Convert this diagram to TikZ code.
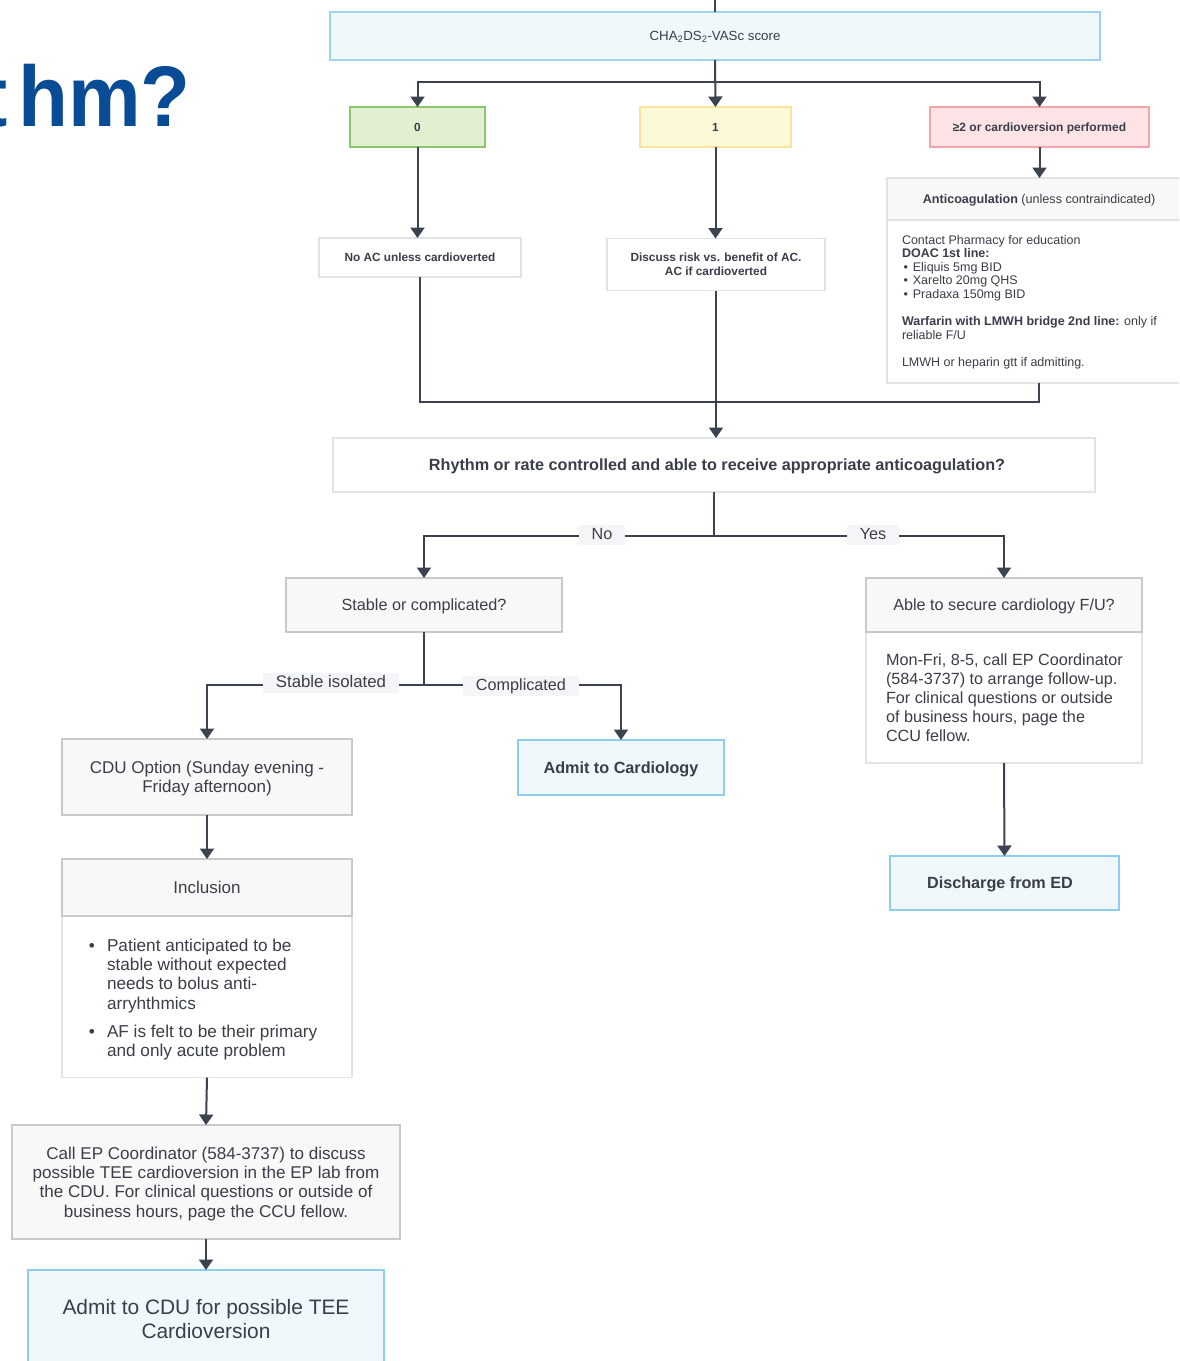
\documentclass[tikz,border=0pt]{standalone}
\usepackage{fontspec}
\setmainfont{Liberation Sans}
\usetikzlibrary{arrows.meta}
\definecolor{txt}{RGB}{58,62,72}
\definecolor{linec}{RGB}{60,66,80}
\definecolor{grayfill}{RGB}{248,248,248}
\definecolor{grayborder}{RGB}{200,201,204}
\definecolor{whiteborder}{RGB}{224,227,231}
\definecolor{bluefill}{RGB}{241,248,252}
\definecolor{blueborder}{RGB}{141,205,239}
\definecolor{chafill}{RGB}{240,248,251}
\definecolor{chaborder}{RGB}{155,211,240}
\definecolor{greenfill}{RGB}{226,239,208}
\definecolor{greenborder}{RGB}{139,198,107}
\definecolor{yellowfill}{RGB}{251,249,216}
\definecolor{yellowborder}{RGB}{247,229,154}
\definecolor{pinkfill}{RGB}{253,227,230}
\definecolor{pinkborder}{RGB}{245,164,169}
\definecolor{labbg}{RGB}{244,245,247}
\definecolor{titleblue}{RGB}{8,76,150}
\newcommand\fsz[2]{\fontsize{#1}{#2}\selectfont}
\begin{document}
\begin{tikzpicture}[x=1pt,y=-1pt,
  basebox/.style={inner sep=0pt, outer sep=0pt, text=txt, align=center, text depth=0pt},
  graybox/.style={basebox, draw=grayborder, fill=grayfill, line width=1.2pt},
  whitebox/.style={basebox, draw=whiteborder, fill=white, line width=1.2pt},
  bluebox/.style={basebox, draw=blueborder, fill=bluefill, line width=1.4pt},
  colbox/.style={basebox, line width=1.3pt},
  conn/.style={draw=linec, line width=2pt},
  arr/.style={conn, -{Triangle[width=14pt,length=10.5pt]}},
  lab/.style={fill=labbg, text=txt, inner xsep=12.5pt, inner ysep=2pt, text height=12pt, text depth=4pt, font=\fsz{16.2}{19}},
  bodytext/.style={anchor=north west, inner sep=0pt, outer sep=0pt, align=left, text=txt}
]
\useasboundingbox (0,0) rectangle (1179,1361);
\clip (0,0) rectangle (1179,1361);

% title fragment
\node[anchor=base east, inner sep=0pt, text=titleblue, font=\fsz{86}{86}\bfseries] (title) at (191,126) {\scalebox{0.95}[1]{t\kern11pt hm?}};

% top row
\coordinate (topin) at (715,0);
\node[colbox, fill=chafill, draw=chaborder, minimum width=770pt, minimum height=48pt, font=\fsz{13.3}{15}] (cha) at (715,36) {CHA\textsubscript{2}DS\textsubscript{2}-VASc score};
\node[colbox, fill=greenfill, draw=greenborder, minimum width=135pt, minimum height=40pt, font=\fsz{11.8}{14}\bfseries] (s0) at (417.5,127) {0};
\node[colbox, fill=yellowfill, draw=yellowborder, minimum width=151pt, minimum height=40pt, font=\fsz{11.8}{14}\bfseries] (s1) at (715.5,127) {1};
\node[colbox, fill=pinkfill, draw=pinkborder, minimum width=219pt, minimum height=40pt, font=\fsz{12}{14}\bfseries] (s2) at (1039.5,127) {≥2 or cardioversion performed};

\node[whitebox, minimum width=202pt, minimum height=39pt, font=\fsz{11.8}{14}\bfseries] (noac) at (420,257.5) {No AC unless cardioverted};
\node[whitebox, minimum width=218pt, minimum height=52pt, font=\fsz{11.85}{14}\bfseries] (disc) at (716,264.5) {Discuss risk vs. benefit of AC.\\AC if cardioverted};

% anticoagulation box
\node[whitebox, minimum width=304pt, minimum height=163pt] (acb) at (1039,301.5) {};
\node[whitebox, fill=grayfill, minimum width=304pt, minimum height=42pt, font=\fsz{12.6}{15}] (ach) at (1039,199) {\textbf{Anticoagulation} (unless contraindicated)};
\node[bodytext, font=\fsz{12.5}{13.65}] (actext) at (902,234.5) {\rule{0pt}{9.5pt}Contact Pharmacy for education\\
\textbf{DOAC 1st line:}\\
\hspace*{1.5pt}\textbullet\hspace{5pt}Eliquis 5mg BID\\
\hspace*{1.5pt}\textbullet\hspace{5pt}Xarelto 20mg QHS\\
\hspace*{1.5pt}\textbullet\hspace{5pt}Pradaxa 150mg BID\\[13.65pt]
\textbf{Warfarin with LMWH bridge 2nd line:} only if\\
reliable F/U\\[13.65pt]
LMWH or heparin gtt if admitting.};

% decision
\node[whitebox, minimum width=762pt, minimum height=54pt, font=\fsz{16.2}{19}\bfseries] (rhy) at (714,465) {\hspace*{6pt}Rhythm or rate controlled and able to receive appropriate anticoagulation?};

\node[graybox, minimum width=276pt, minimum height=54pt, font=\fsz{16.2}{19}] (stab) at (424,605) {Stable or complicated?};

% able box
\node[whitebox, minimum width=276pt, minimum height=131pt] (ableb) at (1004,697.5) {};
\node[graybox, minimum width=276pt, minimum height=54pt, font=\fsz{16.2}{19}] (ableh) at (1004,605) {Able to secure cardiology F/U?};
\node[bodytext, font=\fsz{16.2}{19}] (abletext) at (886,652.5) {\rule{0pt}{12.5pt}Mon-Fri, 8-5, call EP Coordinator\\
(584-3737) to arrange follow-up.\\
For clinical questions or outside\\
of business hours, page the\\
CCU fellow.};

\node[bluebox, minimum width=229pt, minimum height=54pt, font=\fsz{16.2}{19}\bfseries] (disch) at (1004.5,883) {\hspace*{-9pt}Discharge from ED};

\node[bluebox, minimum width=206pt, minimum height=55pt, font=\fsz{16.2}{19}\bfseries] (admc) at (621,767.5) {Admit to Cardiology};

\node[graybox, minimum width=290pt, minimum height=76pt, font=\fsz{17}{19.3}] (cdu) at (207,777) {CDU Option (Sunday evening -\\Friday afternoon)};

% inclusion box
\node[whitebox, minimum width=290pt, minimum height=161pt] (inclb) at (207,997) {};
\node[graybox, minimum width=290pt, minimum height=57pt, font=\fsz{17}{19}] (inclh) at (207,887.5) {Inclusion};
\node[anchor=base, inner sep=0pt, text=txt, font=\fsz{17.2}{19.4}] (bul1) at (92,951) {\textbullet};
\node[anchor=base, inner sep=0pt, text=txt, font=\fsz{17.2}{19.4}] (bul2) at (92,1037) {\textbullet};
\node[bodytext, font=\fsz{17.2}{19.4}] (incl1) at (107,938.5) {\rule{0pt}{12.5pt}Patient anticipated to be\\stable without expected\\needs to bolus anti-\\arryhthmics};
\node[bodytext, font=\fsz{17.2}{19.4}] (incl2) at (107,1024.5) {\rule{0pt}{12.5pt}AF is felt to be their primary\\and only acute problem};

\node[graybox, minimum width=388pt, minimum height=114pt, font=\fsz{17.05}{19.3}] (callep) at (206,1182) {Call EP Coordinator (584-3737) to discuss\\possible TEE cardioversion in the EP lab from\\the CDU. For clinical questions or outside of\\business hours, page the CCU fellow.};

\node[bluebox, minimum width=356pt, minimum height=98pt, font=\fsz{20.9}{24}] (admcdu) at (206,1319) {Admit to CDU for possible TEE\\Cardioversion};

% connectors
\draw[conn] (topin) -- (cha.north);
\coordinate (j1) at (715,82);
\draw[arr] (cha.south) -- (s1.north);
\draw[arr] (j1) -| (s0.north);
\draw[arr] (j1) -| (s2.north);
\draw[arr] (s0.south) -- (s0.south |- noac.north);
\draw[arr] (s1.south) -- (s1.south |- disc.north);
\draw[arr] (s2.south) -- (s2.south |- ach.north);
\coordinate (j2) at (420,402);
\draw[conn] (noac.south) -- (j2) -| (acb.south);
\draw[arr] (disc.south) -- (disc.south |- rhy.north);
\coordinate (j3) at (714,536);
\draw[conn] (rhy.south) -- (j3);
\draw[arr] (j3) -| (stab.north);
\draw[arr] (j3) -| (ableh.north);
\node[lab] (lno) at (602,535) {No};
\node[lab] (lyes) at (873,535) {Yes};
\coordinate (j4) at (424,685);
\draw[conn] (stab.south) -- (j4);
\draw[arr] (j4) -| (cdu.north);
\draw[arr] (j4) -| (admc.north);
\node[lab, font=\fsz{16.8}{19}] (lstab) at (331,683) {Stable isolated};
\node[lab] (lcomp) at (521,686) {Complicated};
\draw[arr] (cdu.south) -- (inclh.north);
\draw[arr] (inclb.south) -- (callep.north);
\draw[arr] (callep.south) -- (admcdu.north);
\draw[arr] (ableb.south) -- (disch.north);
\end{tikzpicture}
\end{document}
